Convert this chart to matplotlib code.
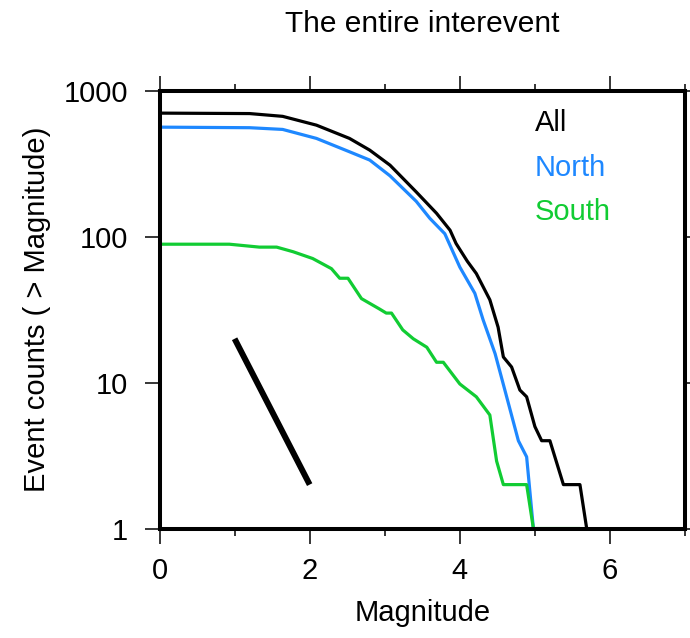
import numpy as np
import matplotlib
matplotlib.use("Agg")
from matplotlib import pyplot as plt
from matplotlib.ticker import FixedLocator, NullLocator, FixedFormatter

plt.rcParams['font.family'] = ['Liberation Sans', 'DejaVu Sans']

# cumulative counts
mag_all = [0, 1.2, 1.64, 2.09, 2.53, 2.8, 3.07, 3.42, 3.69, 3.87, 3.95, 4.1, 4.22, 4.4, 4.51,
           4.58, 4.69, 4.8, 4.89, 5.0, 5.09, 5.2, 5.38, 5.6, 5.69]
cnt_all = [705, 700, 670, 583, 473, 393, 310, 203, 145, 111, 90, 68, 56, 37, 24,
           15, 12.8, 8.9, 8, 5, 4, 4, 2, 2, 1]

mag_north = [0, 1.2, 1.64, 2.09, 2.53, 2.8, 3.07, 3.42, 3.6, 3.8, 4.0, 4.2, 4.31, 4.47,
             4.6, 4.78, 4.89, 4.98]
cnt_north = [565, 560, 545, 473, 383, 336, 262, 175, 134, 105, 62, 41, 27, 15.8,
             8.9, 4, 3.1, 1]

mag_south = [0, 0.93, 1.33, 1.56, 1.78, 2.04, 2.29, 2.4, 2.51, 2.69, 2.93, 3.02, 3.09,
             3.24, 3.38, 3.56, 3.69, 3.78, 4.0, 4.22, 4.4, 4.49, 4.58, 4.89, 4.98, 5.58]
cnt_south = [89, 89, 85, 85, 79, 71, 60.5, 52, 52, 37.7, 32, 30, 30,
             23, 20, 17.5, 13.8, 13.8, 9.8, 8, 6, 2.9, 2, 2, 1, 1]

# reference slope (b = 1)
ref_mag = [1, 2]
ref_cnt = [20, 2]

labels = ["All", "North", "South"]
colors = ["black", "#1e88ff", "#11cc33"]

fig = plt.figure(figsize=(6.9, 6.38), dpi=100)
ax = fig.add_axes([0.2312, 0.1716, 0.7616, 0.6858])

ax.plot(mag_all, cnt_all, color=colors[0], lw=2.3)
ax.plot(mag_north, cnt_north, color=colors[1], lw=2.3)
ax.plot(mag_south, cnt_south, color=colors[2], lw=2.3)
ax.plot(ref_mag, ref_cnt, color="black", lw=4.3, solid_capstyle="butt")

ax.set_yscale("log")
ax.set_xlim(0, 7)
ax.set_ylim(1, 1000)

ax.yaxis.set_major_locator(FixedLocator([1, 10, 100, 1000]))
ax.yaxis.set_major_formatter(FixedFormatter(["1", "10", "100", "1000"]))
ax.yaxis.set_minor_locator(NullLocator())
ax.xaxis.set_major_locator(FixedLocator([0, 2, 4, 6]))
ax.xaxis.set_minor_locator(FixedLocator([1, 3, 5, 7]))

for s in ax.spines.values():
    s.set_linewidth(2.9)
ax.tick_params(which="both", direction="out", top=True, right=True, width=1.1,
               labelsize=21, pad=10)
ax.tick_params(axis="y", pad=12)
ax.tick_params(which="major", length=10.5)
ax.tick_params(which="minor", length=5)

ax.set_xlabel("Magnitude", fontsize=21, labelpad=10)
ax.set_ylabel("Event counts ( > Magnitude)", fontsize=21, labelpad=9)
fig.text(0.612, 0.963, "The entire interevent", fontsize=21.5, ha="center", va="center")

for lab, c, yy in zip(labels, colors, [0.927, 0.824, 0.723]):
    ax.text(0.714, yy, lab, color=c, fontsize=21, transform=ax.transAxes, va="center")

fig.savefig("out.png", dpi=100)
